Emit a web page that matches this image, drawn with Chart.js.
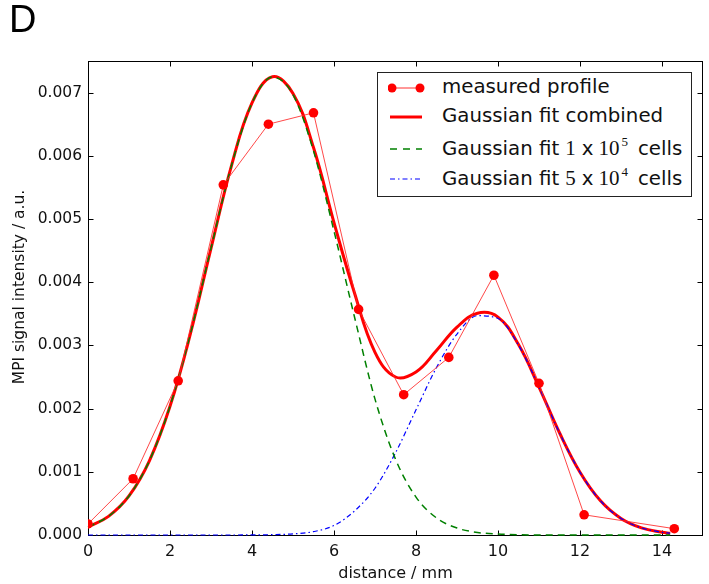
<!DOCTYPE html>
<html>
<head>
<meta charset="utf-8">
<script src="https://cdn.jsdelivr.net/npm/chart.js@4/dist/chart.umd.min.js"></script>
<style>
  html,body{margin:0;padding:0;background:#fff;}
  #wrap{position:relative;width:709px;height:584px;}
  #panel{position:absolute;left:9px;top:0px;font:38px/38px "Liberation Sans",Arial,sans-serif;color:#000;}
  #ytitle{position:absolute;left:19px;top:287px;transform:translate(-50%,-50%) rotate(-90deg);font:15.5px "DejaVu Sans",sans-serif;color:#111;white-space:nowrap;}
  #legend{position:absolute;left:377px;top:72px;width:315px;height:125px;border:1.5px solid #222;background:#fff;box-sizing:border-box;}
  .row{position:absolute;left:0;height:26px;font:19.8px/24px "DejaVu Sans",sans-serif;color:#111;white-space:nowrap;}
  .row svg{position:absolute;left:10px;top:3px;}
  .row span.t{position:absolute;left:64px;top:0px;}
  .m{font-family:"Liberation Serif","DejaVu Serif",serif;font-size:21px;}
  sup{font-size:13px;line-height:0;font-family:"Liberation Serif",serif;vertical-align:9px;margin-left:2px;}
</style>
</head>
<body>
<div id="wrap">
  <canvas id="c" width="709" height="584"></canvas>
  <div id="panel">D</div>
  <div id="ytitle">MPI signal intensity / a.u.</div>
  <div id="legend">
    <div class="row" style="top:1.6px"><svg width="44" height="20"><line x1="4" y1="10" x2="32" y2="10" stroke="#ff3030" stroke-width="1"/><circle cx="4" cy="10" r="4.5" fill="#ff0000"/><circle cx="32" cy="10" r="4.5" fill="#ff0000"/></svg><span class="t">measured profile</span></div>
    <div class="row" style="top:30.6px"><svg width="44" height="20"><line x1="2" y1="10" x2="34" y2="10" stroke="#ff0000" stroke-width="3"/></svg><span class="t">Gaussian fit combined</span></div>
    <div class="row" style="top:62.6px"><svg width="44" height="20"><line x1="2" y1="10" x2="34" y2="10" stroke="#008000" stroke-width="1.5" stroke-dasharray="7,6"/></svg><span class="t">Gaussian fit<span class="m" style="margin-left:6px">1</span><span style="margin-left:6px">x</span><span class="m" style="margin-left:5px">10<sup>5</sup></span><span style="margin-left:10px">cells</span></span></div>
    <div class="row" style="top:92.6px"><svg width="44" height="20"><line x1="2" y1="10" x2="34" y2="10" stroke="#0000ff" stroke-width="1.2" stroke-dasharray="5,3,1.5,3"/></svg><span class="t">Gaussian fit<span class="m" style="margin-left:6px">5</span><span style="margin-left:6px">x</span><span class="m" style="margin-left:5px">10<sup>4</sup></span><span style="margin-left:10px">cells</span></span></div>
  </div>
</div>
<script>
// ---- data ----
const measX = [0, 1.1, 2.2, 3.3, 4.4, 5.5, 6.6, 7.7, 8.8, 9.9, 11.0, 12.1, 14.3];
const measY = [0.000175, 0.00089, 0.00244, 0.00554, 0.0065, 0.00668, 0.00357, 0.00222, 0.00281, 0.00411, 0.0024, 0.00032, 0.0001];

const fitX = [0,0.5,1,1.5,2,2.5,3,3.5,4,4.5,5,5.5,6,6.5,7,7.5,8,8.5,9,9.5,10,10.5,11,11.5,12,12.5,13,13.5,14,14.2];
const fitCombined = [0.000127,0.000295,0.000618,0.001178,0.002036,0.00319,0.004536,0.005846,0.006836,0.007252,0.006987,0.006131,0.004943,0.00383,0.00289,0.0025,0.00258,0.00292,0.00329,0.00351,0.003448,0.003013,0.002341,0.001618,0.000993,0.000541,0.000262,0.000112,0.000043,0.000028];
const fit1e5 = [0.000127,0.000295,0.000618,0.001178,0.002036,0.00319,0.004536,0.005846,0.006834,0.007246,0.006969,0.006078,0.004809,0.00345,0.00215,0.0012,0.0006,0.00027,0.00011,0.00004,0.000015,0.000005,0,0,0,0,0,0,0,0];
const fit5e4 = [0,0,0,0,0,0,0,0,0.0000015,0.0000056,0.000018,0.000053,0.00015,0.00038,0.00074,0.0013,0.00198,0.00265,0.00318,0.00347,0.003426,0.003006,0.002341,0.001618,0.000993,0.000541,0.000262,0.000112,0.000043,0.000028];

const xTicks = [0,2,4,6,8,10,12,14];
const yTicks = [0,0.001,0.002,0.003,0.004,0.005,0.006,0.007];

const pts = (xs, ys) => xs.map((x,i)=>({x, y: ys[i]}));

const frame = {
  id:'frame',
  beforeDatasetsDraw(chart){
    const {ctx, chartArea:a, scales:{x,y}} = chart;
    ctx.save();
    ctx.strokeStyle='#000'; ctx.lineWidth=1;
    const L=Math.round(a.left)+0.5, R=Math.round(a.right)-0.5, T=Math.round(a.top)+0.5, B=Math.round(a.bottom)+0.5;
    ctx.strokeRect(L,T,R-L,B-T);
    const len=5;
    ctx.beginPath();
    xTicks.forEach(v=>{const p=Math.round(x.getPixelForValue(v))+0.5; ctx.moveTo(p,B); ctx.lineTo(p,B-len); ctx.moveTo(p,T); ctx.lineTo(p,T+len);});
    yTicks.forEach(v=>{const p=Math.round(y.getPixelForValue(v))+0.5; ctx.moveTo(L,p); ctx.lineTo(L+len,p); ctx.moveTo(R,p); ctx.lineTo(R-len,p);});
    ctx.stroke();
    ctx.restore();
  }
};

new Chart(document.getElementById('c'), {
  type:'line',
  data:{datasets:[
    {label:'measured profile', data:pts(measX,measY), borderColor:'rgba(255,40,40,0.85)', borderWidth:1, pointRadius:4.8, pointBackgroundColor:'#ff0000', pointBorderColor:'#ff0000', pointBorderWidth:0, tension:0, order:0, clip:0},
    {label:'Gaussian fit 1e5', data:pts(fitX,fit1e5), borderColor:'#008000', borderWidth:1.5, borderDash:[7,5], pointRadius:0, cubicInterpolationMode:'monotone', order:1, clip:2},
    {label:'Gaussian fit 5e4', data:pts(fitX,fit5e4), borderColor:'#0000ff', borderWidth:1.2, borderDash:[5,3,1.5,3], pointRadius:0, cubicInterpolationMode:'monotone', order:1, clip:2},
    {label:'Gaussian fit combined', data:pts(fitX,fitCombined), borderColor:'#ff0000', borderWidth:3, pointRadius:0, tension:0.4, order:3}
  ]},
  options:{
    responsive:false, animation:false,
    layout:{padding:{top:61,right:6,left:0,bottom:0}},
    plugins:{legend:{display:false}, tooltip:{enabled:false}},
    scales:{
      x:{type:'linear', min:0, max:15,
        grid:{display:false, drawTicks:false}, border:{display:false},
        ticks:{stepSize:2, includeBounds:false, padding:7, color:'#111', font:{family:'DejaVu Sans', size:16}},
        title:{display:true, text:'distance / mm', color:'#111', font:{family:'DejaVu Sans', size:16}, padding:{top:2,bottom:1}},
        afterFit(s){ s.height = 49; }
      },
      y:{type:'linear', min:0, max:0.0075,
        grid:{display:false, drawTicks:false}, border:{display:false},
        ticks:{stepSize:0.001, includeBounds:false, padding:6, color:'#111', font:{family:'DejaVu Sans', size:15.5}, callback:v=>v.toFixed(3)},
        title:{display:false},
        afterFit(s){ s.width = 88; }
      }
    }
  },
  plugins:[frame]
});
</script>
</body>
</html>
